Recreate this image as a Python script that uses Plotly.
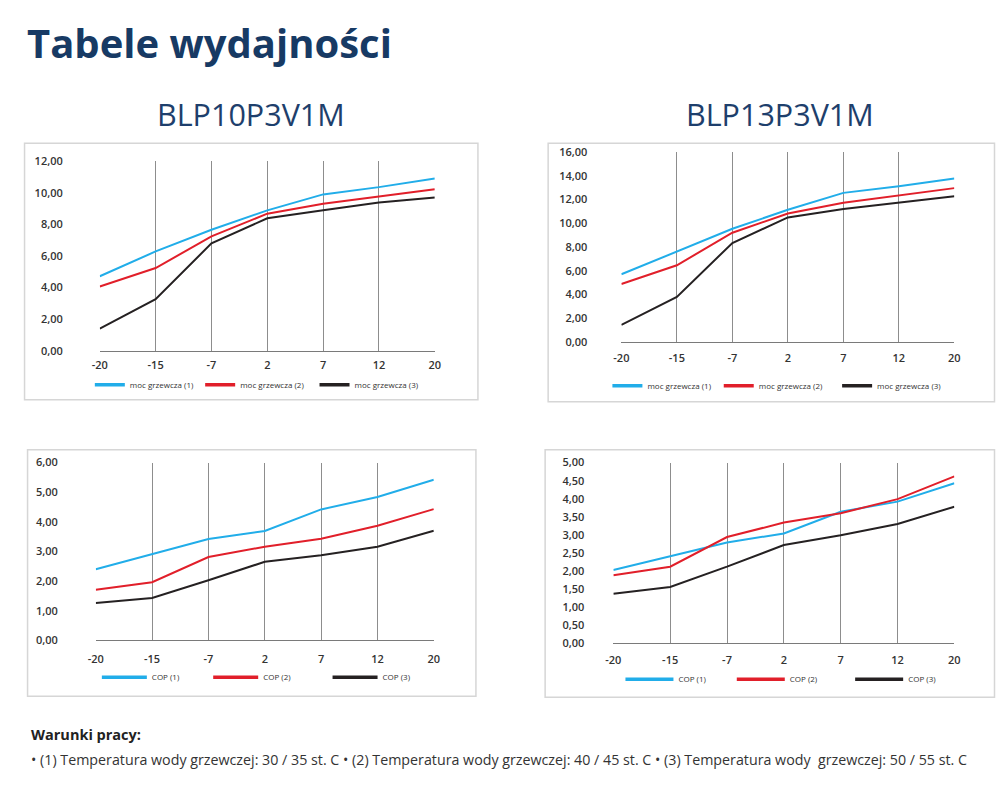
import plotly.graph_objects as go

# ---------------- data ----------------
temps = ["-20", "-15", "-7", "2", "7", "12", "20"]

series_names_moc = ["moc grzewcza (1)", "moc grzewcza (2)", "moc grzewcza (3)"]
series_names_cop = ["COP (1)", "COP (2)", "COP (3)"]

blp10_moc_1 = [4.72, 6.29, 7.66, 8.89, 9.90, 10.36, 10.91]
blp10_moc_2 = [4.07, 5.24, 7.24, 8.68, 9.31, 9.77, 10.22]
blp10_moc_3 = [1.41, 3.27, 6.80, 8.39, 8.89, 9.38, 9.71]

blp13_moc_1 = [5.70, 7.63, 9.54, 11.14, 12.57, 13.13, 13.78]
blp13_moc_2 = [4.88, 6.46, 9.21, 10.83, 11.73, 12.32, 12.97]
blp13_moc_3 = [1.43, 3.79, 8.34, 10.50, 11.20, 11.73, 12.29]

blp10_cop_1 = [2.40, 2.91, 3.42, 3.69, 4.42, 4.84, 5.42]
blp10_cop_2 = [1.71, 1.96, 2.81, 3.16, 3.43, 3.87, 4.43]
blp10_cop_3 = [1.26, 1.43, 2.03, 2.65, 2.87, 3.16, 3.70]

blp13_cop_1 = [2.03, 2.40, 2.79, 3.04, 3.64, 3.92, 4.43]
blp13_cop_2 = [1.88, 2.12, 2.94, 3.34, 3.60, 3.99, 4.62]
blp13_cop_3 = [1.37, 1.56, 2.12, 2.72, 2.99, 3.30, 3.78]

colors = ["#21ade9", "#e11f2a", "#252122"]

W, H = 1000, 794
FONT = "Open Sans"

# the page photo comes out slightly shrunk (about 0.983 with an 8.5 px inset);
# place items so they land on the target pixels
S, O = 0.983, 8.5


def cx(x):
    return (x - O) / S


def cy(y):
    return (y - O) / S


def px(x):
    return cx(x) / W


def py(y):
    return 1 - cy(y) / H


panels = [
    dict(x0=100, x1=434, yt=162, yb=352, ymax=12, dtick=2, ys=36, xs=4,
         data=[blp10_moc_1, blp10_moc_2, blp10_moc_3], names=series_names_moc,
         leg=[(95, 386), (205, 386), (319, 386)], iw=30,
         box=(25, 144, 477, 401)),
    dict(x0=620, x1=952, yt=153, yb=343, ymax=16, dtick=2, ys=33, xs=6,
         data=[blp13_moc_1, blp13_moc_2, blp13_moc_3], names=series_names_moc,
         leg=[(611, 387), (722, 387), (840, 387)], iw=30,
         box=(547, 144, 992, 403)),
    dict(x0=96, x1=433, yt=464, yb=642, ymax=6, dtick=1, ys=37, xs=9,
         data=[blp10_cop_1, blp10_cop_2, blp10_cop_3], names=series_names_cop,
         leg=[(102, 679), (213, 679), (332, 679)], iw=45,
         box=(28, 451, 475, 698)),
    dict(x0=612, x1=952, yt=464, yb=645, ymax=5, dtick=0.5, ys=28, xs=7,
         data=[blp13_cop_1, blp13_cop_2, blp13_cop_3], names=series_names_cop,
         leg=[(624, 681), (735, 681), (853, 681)], iw=48,
         box=(544, 451, 992, 699)),
]

fig = go.Figure()
layout = dict(
    width=W, height=H,
    margin=dict(l=0, r=0, t=0, b=0),
    paper_bgcolor="white", plot_bgcolor="white",
    separators=", ",
    font=dict(family=FONT, color="#333333"),
    shapes=[], annotations=[],
)

leg_idx = 0
for i, p in enumerate(panels):
    n = i + 1
    xa = "x" if n == 1 else f"x{n}"
    ya = "y" if n == 1 else f"y{n}"
    xk = "xaxis" if n == 1 else f"xaxis{n}"
    yk = "yaxis" if n == 1 else f"yaxis{n}"
    layout[xk] = dict(
        domain=[px(p["x0"]), px(p["x1"])], anchor=ya,
        type="category", categoryorder="array", categoryarray=temps,
        range=[0, 6], showgrid=True, gridcolor="#8d8d8d", gridwidth=1,
        showline=True, linecolor="#7a7a7a", linewidth=1, ticks="",
        zeroline=False, fixedrange=True, ticklabelstandoff=p["xs"],
        tickfont=dict(family=FONT, size=11, color="#333333", weight=600),
    )
    layout[yk] = dict(
        domain=[py(p["yb"]), py(p["yt"])], anchor=xa,
        range=[0, p["ymax"]], dtick=p["dtick"], tick0=0, tickformat=".2f",
        showgrid=False, zeroline=False, showline=False, ticks="",
        fixedrange=True, ticklabelstandoff=p["ys"],
        tickfont=dict(family=FONT, size=11, color="#333333", weight=600),
    )
    # left-most vertical grid line (at the first category), which plotly skips at the edge
    layout["shapes"].append(dict(
        type="line", xref=xa, yref=f"{ya} domain",
        x0=temps[0], x1=temps[0], y0=0, y1=1,
        line=dict(color="#8d8d8d", width=1), layer="below",
    ))
    for k in range(3):
        fig.add_trace(go.Scatter(
            x=temps, y=p["data"][k], mode="lines", name=p["names"][k],
            line=dict(color=colors[k], width=2), xaxis=xa, yaxis=ya,
            showlegend=False, hoverinfo="skip",
        ))
        leg_idx += 1
        lk = "legend" if leg_idx == 1 else f"legend{leg_idx}"
        fig.add_trace(go.Scatter(
            x=[None], y=[None], mode="lines", name=p["names"][k],
            line=dict(color=colors[k], width=3.5), xaxis=xa, yaxis=ya,
            showlegend=True, legend=lk,
        ))
        lx, ly = p["leg"][k]
        layout[lk] = dict(
            x=(cx(lx) - 5) / W, y=py(ly), xanchor="left", yanchor="middle",
            orientation="h", bgcolor="rgba(0,0,0,0)", borderwidth=0,
            itemwidth=p["iw"], font=dict(family=FONT, size=8, color="#333333"),
            itemclick=False, itemdoubleclick=False,
        )
    bx0, by0, bx1, by1 = p["box"]
    layout["shapes"].append(dict(
        type="rect", xref="paper", yref="paper",
        x0=px(bx0), x1=px(bx1), y0=py(by1), y1=py(by0),
        line=dict(color="#d6d6d6", width=1.5), fillcolor="rgba(0,0,0,0)", layer="below",
    ))

layout["annotations"] += [
    dict(text="Tabele wydajności", x=px(25), y=py(43), xref="paper", yref="paper",
         xanchor="left", yanchor="middle", showarrow=False,
         font=dict(family=FONT, size=40, color="#173a64", weight="bold")),
    dict(text="BLP10P3V1M", x=px(251), y=py(115), xref="paper", yref="paper",
         xanchor="center", yanchor="middle", showarrow=False,
         font=dict(family=FONT, size=30.5, color="#1e3f6c")),
    dict(text="BLP13P3V1M", x=px(778), y=py(115), xref="paper", yref="paper",
         xanchor="center", yanchor="middle", showarrow=False,
         font=dict(family=FONT, size=30.5, color="#1e3f6c")),
    dict(text="Warunki pracy:", x=px(29), y=py(736), xref="paper", yref="paper",
         xanchor="left", yanchor="middle", showarrow=False,
         font=dict(family=FONT, size=14.5, color="#222222", weight="bold")),
    dict(text="• (1) Temperatura wody grzewczej: 30 / 35 st. C • (2) Temperatura wody grzewczej: 40 / 45 st. C"
              " • (3) Temperatura wody\u00a0 grzewczej: 50 / 55 st. C",
         x=px(29), y=py(761), xref="paper", yref="paper",
         xanchor="left", yanchor="middle", showarrow=False,
         font=dict(family=FONT, size=14.25, color="#333333")),
]

fig.update_layout(**layout)
fig.write_html(
    "out.html",
    config={"displayModeBar": False},
    post_script="document.documentElement.style.margin='0';document.body.style.margin='0';document.body.style.padding='0';document.documentElement.style.overflow='hidden';document.body.style.overflow='hidden';",
)
